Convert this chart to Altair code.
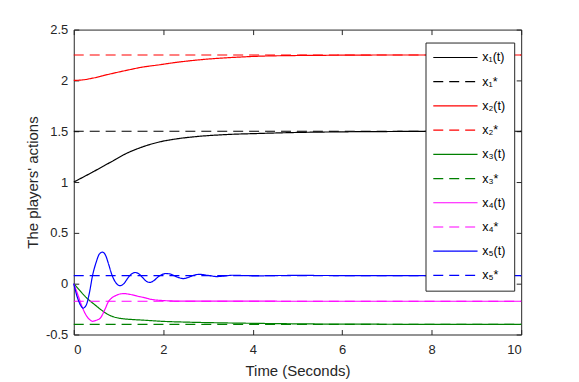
import altair as alt
import pandas as pd

# ---- data ----
t1 = [0, 0.43, 0.8, 1.17, 1.5, 1.92, 2.3, 2.66, 3.4, 4.14, 5, 6, 7, 8, 10]
x1 = [1.0, 1.10, 1.19, 1.28, 1.34, 1.395, 1.425, 1.444, 1.467, 1.478, 1.488, 1.494, 1.497, 1.499, 1.5]

t2 = [0, 0.2, 0.43, 0.8, 1.17, 1.5, 1.92, 2.3, 2.66, 3.0, 3.4, 4.14, 5, 6, 7, 10]
x2 = [2.0, 2.005, 2.023, 2.062, 2.098, 2.128, 2.154, 2.178, 2.196, 2.21, 2.222, 2.238, 2.245, 2.248, 2.25, 2.25]

t3 = [0, 0.1, 0.2, 0.33, 0.45, 0.62, 0.75, 0.92, 1.1, 1.29, 1.6, 1.96, 2.5, 3, 4, 5, 6, 7, 8, 10]
x3 = [0, -0.05, -0.1, -0.157, -0.2, -0.26, -0.3, -0.33, -0.345, -0.352, -0.36, -0.37, -0.378, -0.383, -0.39, -0.395, -0.398, -0.399, -0.4, -0.4]

t4 = [0, 0.1, 0.18, 0.29, 0.36, 0.42, 0.5, 0.59, 0.7, 0.77, 0.85, 0.95, 1.05, 1.14, 1.25, 1.44, 1.6, 1.74, 1.96, 2.2, 2.5, 3, 4, 5, 6, 8, 10]
x4 = [0, -0.12, -0.22, -0.32, -0.355, -0.37, -0.36, -0.34, -0.25, -0.18, -0.14, -0.115, -0.1, -0.098, -0.105, -0.124, -0.14, -0.155, -0.165, -0.17, -0.172, -0.172, -0.172, -0.173, -0.173, -0.173, -0.173]

t5 = [0, 0.05, 0.1, 0.15, 0.21, 0.28, 0.35, 0.42, 0.5, 0.57, 0.64, 0.71, 0.78, 0.85, 0.94, 1.03,
      1.12, 1.2, 1.29, 1.38, 1.46, 1.54, 1.62, 1.7, 1.79, 1.88, 1.97, 2.06, 2.16, 2.26, 2.36, 2.45,
      2.55, 2.65, 2.8, 3.0, 3.2, 3.38, 3.55, 3.8, 4.1, 4.5, 5, 6, 7, 8, 9, 10]
x5 = [0, -0.09, -0.16, -0.21, -0.24, -0.21, -0.09, 0.08, 0.21, 0.29, 0.31, 0.28, 0.19, 0.09, 0.01, -0.02,
      0.0, 0.05, 0.095, 0.11, 0.095, 0.06, 0.025, 0.012, 0.03, 0.065, 0.09, 0.1, 0.095, 0.075, 0.058, 0.05,
      0.06, 0.078, 0.092, 0.082, 0.07, 0.076, 0.083, 0.08, 0.077, 0.08, 0.081, 0.08, 0.079, 0.08, 0.08, 0.08]

t_star = [0, 10]
x_star = [1.5, 2.25, -0.4, -0.173, 0.08]

labels = ["x\u2081(t)", "x\u2081*", "x\u2082(t)", "x\u2082*", "x\u2083(t)", "x\u2083*",
          "x\u2084(t)", "x\u2084*", "x\u2085(t)", "x\u2085*"]
colors = ["#000000", "#000000", "#FF0000", "#FF0000", "#008000", "#008000",
          "#FF00FF", "#FF00FF", "#0000FF", "#0000FF"]
dashes = [[1, 0], [10, 6], [1, 0], [10, 6], [1, 0], [10, 6], [1, 0], [10, 6], [1, 0], [10, 6]]

x_ticks = [0, 2, 4, 6, 8, 10]
y_ticks = [-0.5, 0, 0.5, 1, 1.5, 2, 2.5]

# ---- build long table ----
rows = []
traj = [(t1, x1), (t2, x2), (t3, x3), (t4, x4), (t5, x5)]
for i, (tt, xx) in enumerate(traj):
    for a, b in zip(tt, xx):
        rows.append({"t": a, "v": b, "s": labels[2 * i]})
    for a in t_star:
        rows.append({"t": a, "v": x_star[i], "s": labels[2 * i + 1]})
df = pd.DataFrame(rows)

W, H = 449, 306
FONT = "Liberation Sans"
AX = "#262626"
LW = 1.2

xs = alt.Scale(domain=[0, 10], nice=False, zero=False)
ys = alt.Scale(domain=[-0.5, 2.5], nice=False, zero=False)

leg = alt.Legend(
    title=None, orient="none", legendX=353, legendY=13,
    symbolType="M-3.7,0H3.7", symbolSize=144, symbolStrokeWidth=LW,
    symbolOffset=15, labelOffset=20,
    labelFont=FONT, labelFontSize=12.5, labelColor="#000000",
    padding=8, rowPadding=10.3,
    strokeColor=AX, fillColor="#FFFFFF", cornerRadius=0,
)

lines = alt.Chart(df).mark_line(strokeWidth=LW, interpolate="monotone").encode(
    x=alt.X("t:Q", scale=xs, axis=alt.Axis(
        orient="bottom", values=x_ticks, title="Time (Seconds)", ticks=False,
        domain=True, domainColor=AX, grid=False, labelPadding=9,
        labelFont=FONT, labelFontSize=13, labelColor=AX,
        titleFont=FONT, titleFontSize=15, titleFontWeight="normal", titleColor=AX,
        titlePadding=7, labelExpr="'' + datum.value")),
    y=alt.Y("v:Q", scale=ys, axis=alt.Axis(
        orient="left", values=y_ticks, title="The players' actions", ticks=False,
        domain=True, domainColor=AX, grid=False, labelPadding=6,
        labelFont=FONT, labelFontSize=13, labelColor=AX,
        titleFont=FONT, titleFontSize=15, titleFontWeight="normal", titleColor=AX,
        titlePadding=5, labelExpr="'' + datum.value")),
    color=alt.Color("s:N", scale=alt.Scale(domain=labels, range=colors), legend=leg),
    strokeDash=alt.StrokeDash("s:N", scale=alt.Scale(domain=labels, range=dashes), legend=leg),
)

# inward ticks on bottom (top-oriented axis moved down) and left (right-oriented axis moved left)
ax_a = alt.Chart(df).mark_line(opacity=0).encode(
    x=alt.X("t:Q", scale=xs, axis=alt.Axis(
        orient="top", offset=-H, values=x_ticks, labels=False, domain=False,
        ticks=True, tickSize=5, tickColor=AX, grid=False, title=None)),
    y=alt.Y("v:Q", scale=ys, axis=alt.Axis(
        orient="right", offset=-W, values=y_ticks, labels=False, domain=False,
        ticks=True, tickSize=5, tickColor=AX, grid=False, title=None)),
)
# inward ticks + border on top and right
ax_b = alt.Chart(df).mark_line(opacity=0).encode(
    x=alt.X("t:Q", scale=xs, axis=alt.Axis(
        orient="bottom", offset=-H, values=x_ticks, labels=False, domain=True,
        domainColor=AX, ticks=True, tickSize=5, tickColor=AX, grid=False, title=None)),
    y=alt.Y("v:Q", scale=ys, axis=alt.Axis(
        orient="left", offset=-W, values=y_ticks, labels=False, domain=True,
        domainColor=AX, ticks=True, tickSize=5, tickColor=AX, grid=False, title=None)),
)

chart = alt.layer(ax_a, ax_b, lines).resolve_axis(
    x="independent", y="independent"
).properties(
    width=W, height=H,
    autosize=alt.AutoSizeParams(type="none"),
    padding={"left": 66, "top": 21, "right": 50, "bottom": 46},
    background="#FFFFFF",
).configure_view(stroke="transparent")

chart.save("out.html", embed_options={"renderer": "svg", "actions": False})
